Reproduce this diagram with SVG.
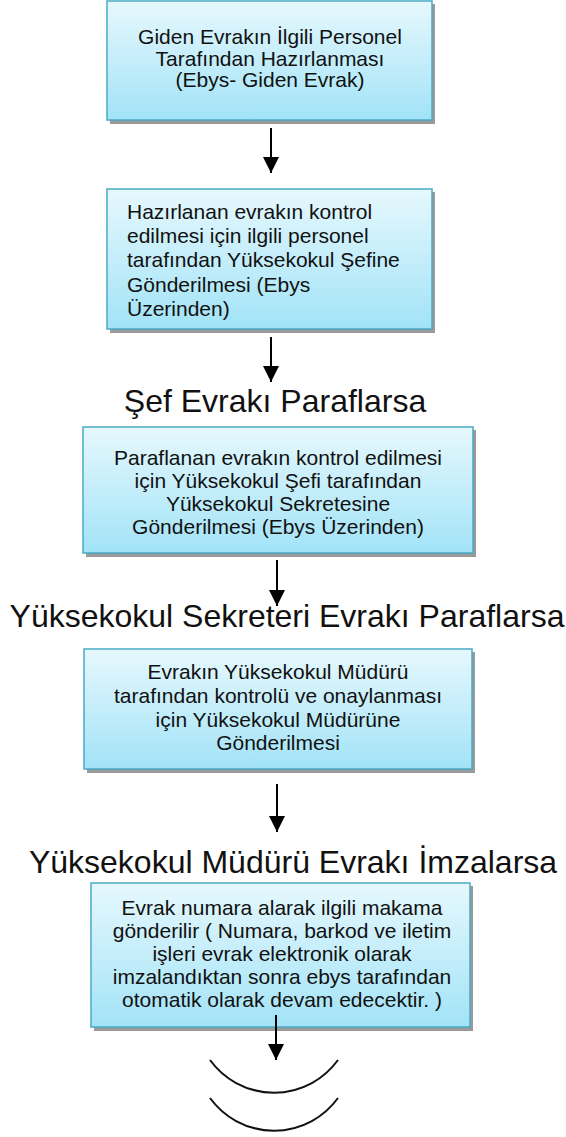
<svg xmlns="http://www.w3.org/2000/svg" width="566" height="1137" viewBox="0 0 566 1137">
  <defs>
    <linearGradient id="boxFill" x1="0" y1="0" x2="0" y2="1">
      <stop offset="0" stop-color="#e6f8fd"/>
      <stop offset="1" stop-color="#a2e3f7"/>
    </linearGradient>
    <!-- triangular head, drawn along +x so orient="auto" points it down the line -->
    <marker id="head" markerWidth="16" markerHeight="16" refX="16" refY="8" viewBox="0 0 16 16" markerUnits="userSpaceOnUse" orient="auto">
      <path d="M0,0 L16,8 L0,16 Z" fill="#000"/>
    </marker>
    <style>
      .box { fill: url(#boxFill); stroke: #4aaac5; stroke-width: 1.5; }
      .shadow { fill: #9a9a9a; }
      .t { font-family: "Liberation Sans", Arial, sans-serif; font-size: 21px; fill: #111; }
      .c { text-anchor: middle; }
      .big { font-family: "Liberation Sans", Arial, sans-serif; font-size: 32px; fill: #111; text-anchor: middle; }
      .link { stroke: #000; stroke-width: 2; fill: none; }
      .arc { stroke: #111; stroke-width: 2; fill: none; }
    </style>
  </defs>

  <g id="step1">
    <rect class="shadow" x="110" y="4" width="325" height="120"/>
    <rect class="box" x="107" y="1" width="325" height="119"/>
    <text class="t c" x="270" y="44">Giden Evrakın İlgili Personel</text>
    <text class="t c" x="270" y="65.5">Tarafından Hazırlanması</text>
    <text class="t c" x="270" y="87">(Ebys- Giden Evrak)</text>
  </g>

  <g id="step2">
    <rect class="shadow" x="110" y="192" width="325" height="141"/>
    <rect class="box" x="107" y="189" width="325" height="140"/>
    <text class="t" x="127" y="219">Hazırlanan evrakın kontrol</text>
    <text class="t" x="127" y="243">edilmesi için ilgili personel</text>
    <text class="t" x="127" y="267">tarafından Yüksekokul Şefine</text>
    <text class="t" x="127" y="292">Gönderilmesi (Ebys</text>
    <text class="t" x="127" y="316">Üzerinden)</text>
  </g>

  <g id="label1">
    <text class="big" x="275" y="412">Şef Evrakı Paraflarsa</text>
  </g>

  <g id="step3">
    <rect class="shadow" x="86" y="430" width="390" height="127"/>
    <rect class="box" x="83" y="427" width="390" height="126"/>
    <text class="t c" x="278" y="465">Paraflanan evrakın kontrol edilmesi</text>
    <text class="t c" x="278" y="488">için Yüksekokul Şefi tarafından</text>
    <text class="t c" x="278" y="511">Yüksekokul Sekretesine</text>
    <text class="t c" x="278" y="534">Gönderilmesi (Ebys Üzerinden)</text>
  </g>

  <g id="label2">
    <text class="big" x="287" y="627">Yüksekokul Sekreteri Evrakı Paraflarsa</text>
  </g>

  <g id="step4">
    <rect class="shadow" x="87" y="652" width="388" height="121"/>
    <rect class="box" x="84" y="649" width="388" height="120"/>
    <text class="t c" x="278" y="679">Evrakın Yüksekokul Müdürü</text>
    <text class="t c" x="278" y="703">tarafından kontrolü ve onaylanması</text>
    <text class="t c" x="278" y="727">için Yüksekokul Müdürüne</text>
    <text class="t c" x="278" y="750">Gönderilmesi</text>
  </g>

  <g id="label3">
    <text class="big" x="293" y="873">Yüksekokul Müdürü Evrakı İmzalarsa</text>
  </g>

  <g id="step5">
    <rect class="shadow" x="94" y="886" width="379" height="145"/>
    <rect class="box" x="91" y="883" width="379" height="144"/>
    <text class="t c" x="282" y="915">Evrak numara alarak ilgili makama</text>
    <text class="t c" x="282" y="938">gönderilir ( Numara, barkod ve iletim</text>
    <text class="t c" x="282" y="961">işleri evrak elektronik olarak</text>
    <text class="t c" x="282" y="984">imzalandıktan sonra ebys tarafından</text>
    <text class="t c" x="282" y="1007">otomatik olarak devam edecektir. )</text>
  </g>

  <g id="end">
    <path class="arc" d="M210,1060 A79,79 0 0,0 338,1060"/>
    <path class="arc" d="M210,1098 A79,79 0 0,0 338,1098"/>
  </g>

  <g id="connectors">
    <line class="link" x1="271" y1="128" x2="271" y2="173" marker-end="url(#head)"/>
    <line class="link" x1="271" y1="337" x2="271" y2="382" marker-end="url(#head)"/>
    <line class="link" x1="277" y1="560" x2="277" y2="606" marker-end="url(#head)"/>
    <line class="link" x1="277" y1="784" x2="277" y2="832" marker-end="url(#head)"/>
    <line class="link" x1="276" y1="1015" x2="276" y2="1060" marker-end="url(#head)"/>
  </g>
</svg>
